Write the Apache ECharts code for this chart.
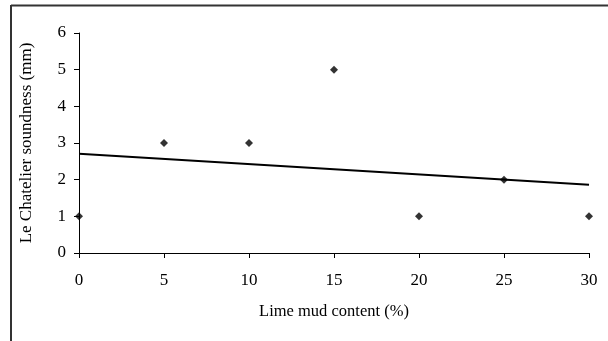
<!DOCTYPE html>
<html>
<head>
<meta charset="utf-8">
<script src="https://cdn.jsdelivr.net/npm/echarts@6/dist/echarts.min.js"></script>
<style>
  html, body { margin: 0; padding: 0; background: #fff; }
  #chart { width: 608px; height: 341px; }
</style>
</head>
<body>
<div id="chart"></div>
<script>
// measured points
const limeMud = [0, 5, 10, 15, 20, 25, 30]
const soundness = [1, 3, 3, 5, 1, 2, 1]
// linear trend line end points
const trendX = [0, 30]
const trendY = [2.71, 1.86]

const font = 'Liberation Serif'

const chart = echarts.init(document.getElementById('chart'))

const option = {
  backgroundColor: '#fff',
  animation: false,
  grid: { left: 79, right: 19, top: 33, bottom: 88 },
  // outer frame (top + left edges only visible)
  graphic: [
    { type: 'line', shape: { x1: 11, y1: 5.5, x2: 608, y2: 5.5 }, style: { stroke: '#333', lineWidth: 2 } },
    { type: 'line', shape: { x1: 11, y1: 5, x2: 11, y2: 341 }, style: { stroke: '#333', lineWidth: 2 } }
  ],
  xAxis: {
    type: 'value',
    min: 0, max: 30, interval: 5,
    name: 'Lime mud content (%)',
    nameLocation: 'middle',
    nameGap: 50,
    nameTextStyle: { fontFamily: font, fontSize: 16.5, color: '#000' },
    axisLine: { lineStyle: { color: '#000', width: 1 } },
    axisTick: { show: true, length: 5, lineStyle: { color: '#000' } },
    axisLabel: { fontFamily: font, fontSize: 17, color: '#000', margin: 19 },
    splitLine: { show: false }
  },
  yAxis: {
    type: 'value',
    min: 0, max: 6, interval: 1,
    name: 'Le Chatelier soundness (mm)',
    nameLocation: 'middle',
    nameGap: 44,
    nameTextStyle: { fontFamily: font, fontSize: 17, color: '#000' },
    axisLine: { show: true, lineStyle: { color: '#000', width: 1 } },
    axisTick: { show: true, length: 5, lineStyle: { color: '#000' } },
    axisLabel: { fontFamily: font, fontSize: 17, color: '#000', margin: 13 },
    splitLine: { show: false }
  },
  series: [
    {
      type: 'line',
      data: trendX.map((x, i) => [x, trendY[i]]),
      showSymbol: false,
      lineStyle: { color: '#000', width: 2 },
      z: 1
    },
    {
      type: 'scatter',
      data: limeMud.map((x, i) => [x, soundness[i]]),
      symbol: 'diamond',
      symbolSize: 8,
      itemStyle: { color: '#000' },
      z: 2
    }
  ]
}
chart.setOption(option)
</script>
</body>
</html>
